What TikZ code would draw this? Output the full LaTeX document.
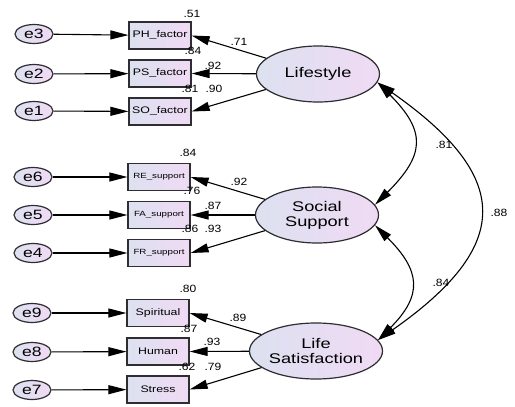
\documentclass[tikz,border=0pt]{standalone}
\usepackage{fontspec}
\setmainfont{Liberation Sans}
\newfontfamily\widef[FakeStretch=1.3]{Liberation Sans}
\newfontfamily\numf[FakeStretch=1.15]{Liberation Sans}
\usetikzlibrary{arrows.meta,shapes.geometric}
\definecolor{shL}{RGB}{220,225,240}
\definecolor{shR}{RGB}{240,218,244}
\definecolor{bord}{RGB}{45,45,50}
\tikzset{
  shadefill/.style={left color=shL,right color=shR,draw=bord,line width=1.2pt},
  errnode/.style={ellipse,shadefill,minimum width=38pt,minimum height=19pt,inner sep=0pt,font=\widef\fontsize{13.5}{14}\selectfont},
  obsbox/.style={rectangle,shadefill,minimum width=62pt,minimum height=27pt,inner sep=0pt,font=\widef\fontsize{9.5}{10}\selectfont},
  obssmall/.style={obsbox,font=\widef\fontsize{7.5}{8}\selectfont},
  latent/.style={ellipse,shadefill,minimum width=123pt,minimum height=56pt,inner sep=0pt,align=center,font=\widef\fontsize{14}{15}\selectfont},
  tip/.style={Triangle[length=18pt,width=9pt]},
  arr/.style={line width=1.1pt,-{Triangle[length=18pt,width=9pt]}},
  arrb/.style={line width=1.1pt,{Triangle[length=18pt,width=9pt]}-{Triangle[length=18pt,width=9pt]}},
  num/.style={font=\numf\fontsize{10.5}{11}\selectfont,inner sep=0pt}
}
\begin{document}
\begin{tikzpicture}[x=1pt,y=1pt]
\useasboundingbox (0,0) rectangle (515,-407);
% error terms
\node[errnode] (e3) at (34,-34) {e3};
\node[errnode] (e2) at (34,-74) {e2};
\node[errnode] (e1) at (34,-111) {e1};
\node[errnode] (e6) at (33,-177) {e6};
\node[errnode] (e5) at (33,-215) {e5};
\node[errnode] (e4) at (33,-253) {e4};
\node[errnode] (e9) at (32,-313) {e9};
\node[errnode] (e8) at (32,-352) {e8};
\node[errnode] (e7) at (32,-390) {e7};
% observed
\node[obsbox] (PH) at (160,-35.5) {PH\_factor};
\node[obsbox] (PS) at (160,-73.5) {PS\_factor};
\node[obsbox] (SO) at (160,-111.5) {SO\_factor};
\node[obssmall] (RE) at (159,-177) {RE\_support};
\node[obssmall] (FA) at (159,-215) {FA\_support};
\node[obssmall] (FR) at (159,-253) {FR\_support};
\node[obsbox] (SP) at (158,-313) {Spiritual};
\node[obsbox] (HU) at (158,-351.5) {Human};
\node[obsbox] (ST) at (158,-389.5) {Stress};
% latent
\node[latent] (L) at (318,-74) {Lifestyle};
\node[latent] (S) at (317,-215) {Social\\Support};
\node[latent] (LS) at (316,-351) {Life\\Satisfaction};
% error arrows
\foreach \a/\b in {e3/PH,e2/PS,e1/SO,e6/RE,e5/FA,e4/FR,e9/SP,e8/HU,e7/ST}
  \draw[arr] (\a) -- (\b);
% loadings
\foreach \a/\b in {L/PH,L/PS,L/SO,S/RE,S/FA,S/FR,LS/SP,LS/HU,LS/ST}
  \draw[arr] (\a) -- (\b.east);
% covariances
\draw[arrb] (L.-8) .. controls +(-45:70) and +(45:70) .. (S.10);
\draw[arrb] (S.-10) .. controls +(-45:64) and +(45:64) .. (LS.10);
\draw[arrb] (L.-8) .. controls +(-35:165) and +(35:165) .. (LS.10);
% labels
\node[num] (n1) at (192,-14) {.51};
\node[num] (n2) at (193,-51) {.84};
\node[num] (n3) at (190,-89) {.81};
\node[num] (n4) at (239,-42) {.71};
\node[num] (n5) at (213,-66) {.92};
\node[num] (n6) at (214,-89) {.90};
\node[num] (n7) at (188,-153) {.84};
\node[num] (n8) at (192,-191) {.76};
\node[num] (n9) at (190,-229) {.86};
\node[num] (n10) at (239,-182) {.92};
\node[num] (n11) at (213,-206) {.87};
\node[num] (n12) at (213,-229) {.93};
\node[num] (n13) at (188,-289) {.80};
\node[num] (n14) at (189,-329) {.87};
\node[num] (n15) at (187,-367) {.62};
\node[num] (n16) at (238,-318) {.89};
\node[num] (n17) at (212,-342) {.93};
\node[num] (n18) at (213,-367) {.79};
\node[num] (c1) at (444,-145) {.81};
\node[num] (c2) at (441,-283) {.84};
\node[num] (c3) at (499,-213) {.88};
\end{tikzpicture}
\end{document}
